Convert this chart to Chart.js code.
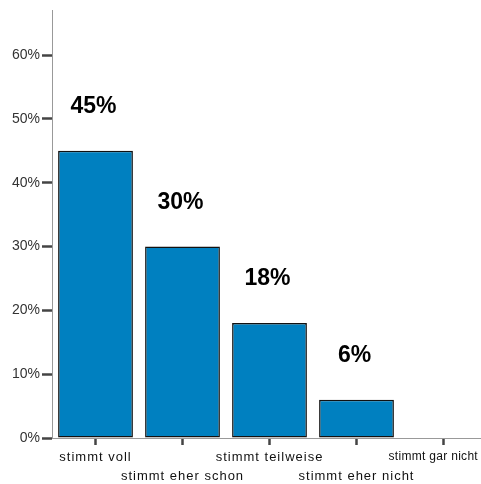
<!DOCTYPE html>
<html>
<head>
<meta charset="utf-8">
<style>
  html, body { margin: 0; padding: 0; overflow: hidden; background: #fff; }
  canvas { display: block; }
</style>
<script src="https://cdn.jsdelivr.net/npm/chart.js@4/dist/chart.umd.min.js"></script>
</head>
<body>
<canvas id="chart" width="490" height="484"></canvas>
<script>
// Answer categories and their shares in percent
const categories = ['stimmt voll', 'stimmt eher schon', 'stimmt teilweise', 'stimmt eher nicht', 'stimmt gar nicht'];
const shares = [45, 30, 18, 6, 0];
const yTickValues = [0, 10, 20, 30, 40, 50, 60];
const yMax = 67;

const FONT = "'Liberation Sans', Arial, sans-serif";

// Bold percentage above each bar
const valueLabels = {
  id: 'valueLabels',
  afterDatasetsDraw(chart) {
    const ctx = chart.ctx;
    const meta = chart.getDatasetMeta(0);
    ctx.save();
    ctx.font = 'bold 23px ' + FONT;
    ctx.fillStyle = '#000';
    ctx.textAlign = 'center';
    ctx.textBaseline = 'middle';
    meta.data.forEach((bar, i) => {
      const v = shares[i];
      if (!v) return;
      ctx.fillText(v + '%', bar.x - 2, bar.y - 44);
    });
    ctx.restore();
  }
};

// Category names below the axis, alternating between two rows
const categoryLabels = {
  id: 'categoryLabels',
  afterDraw(chart) {
    const xs = chart.scales.x;
    const ctx = chart.ctx;
    const visibleRight = window.innerWidth - 3;
    ctx.save();
    ctx.fillStyle = '#111';
    ctx.textAlign = 'center';
    ctx.textBaseline = 'middle';
    categories.forEach((name, i) => {
      const last = i === categories.length - 1;
      ctx.font = (last ? 12 : 13) + 'px ' + FONT;
      ctx.letterSpacing = last ? '0.3px' : '1px';
      const w = ctx.measureText(name).width;
      const cx = Math.min(xs.getPixelForTick(i), visibleRight - w / 2);
      const row = i % 2;
      ctx.fillText(name, cx, xs.top + 19 + row * 19);
    });
    ctx.restore();
  }
};

new Chart(document.getElementById('chart'), {
  type: 'bar',
  data: {
    labels: categories,
    datasets: [{
      data: shares,
      backgroundColor: '#0080C0',
      borderColor: '#111',
      borderWidth: 1.5,
      borderSkipped: false,
      barPercentage: 0.86,
      categoryPercentage: 1
    }]
  },
  options: {
    responsive: false,
    animation: false,
    devicePixelRatio: 1,
    layout: { padding: { top: 10, right: 3, left: 0, bottom: 0 } },
    plugins: { legend: { display: false }, tooltip: { enabled: false } },
    scales: {
      x: {
        grid: { drawOnChartArea: false, offset: false, tickLength: 7, tickWidth: 2.5, tickColor: '#444' },
        border: { color: '#999', width: 1 },
        ticks: { display: false },
        afterFit(s) { s.height = 46; }
      },
      y: {
        min: 0,
        max: yMax,
        afterBuildTicks(s) { s.ticks = yTickValues.map(v => ({ value: v })); },
        ticks: { callback: v => v + '%', font: { family: FONT, size: 14 }, color: '#333', padding: 2 },
        grid: { drawOnChartArea: false, tickLength: 10, tickWidth: 2.5, tickColor: '#444' },
        border: { color: '#999', width: 1 },
        afterFit(s) { s.width = 52; }
      }
    }
  },
  plugins: [valueLabels, categoryLabels]
});
</script>
</body>
</html>
